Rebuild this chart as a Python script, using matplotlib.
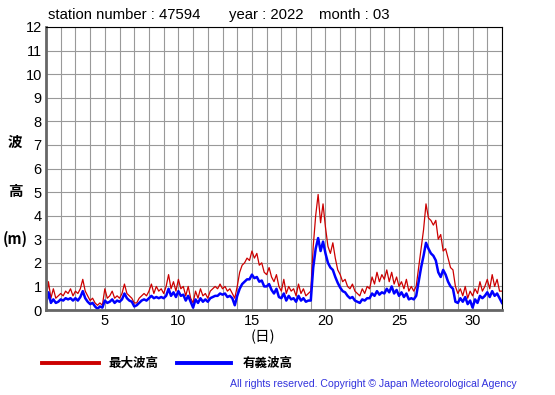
import matplotlib
matplotlib.use("Agg")
import matplotlib.pyplot as plt
from matplotlib.lines import Line2D
import numpy as np

plt.rcParams['font.family'] = ['Liberation Sans', 'Noto Sans CJK JP', 'DejaVu Sans']

# samples every 4 hours, day 1.0 .. 32.0
samples_per_day = 6
max_wave = [
    0.4, 1.2, 0.5, 0.9, 0.5, 0.6,
    0.7, 0.6, 0.8, 0.7, 0.9, 0.6,
    0.8, 0.7, 0.9, 1.3, 0.8, 0.6,
    0.4, 0.5, 0.3, 0.2, 0.3, 0.2,
    0.9, 0.5, 0.6, 0.8, 0.5, 0.6,
    0.5, 0.7, 1.1, 0.7, 0.6, 0.5,
    0.3, 0.3, 0.5, 0.6, 0.7, 0.6,
    0.8, 1.1, 0.7, 1.0, 0.8, 0.9,
    0.7, 1.0, 1.5, 0.9, 1.2, 0.8,
    1.3, 0.9, 1.0, 0.6, 1.0, 0.5,
    0.3, 0.8, 0.5, 0.9, 0.6, 0.7,
    0.5, 0.8, 0.9, 1.0, 0.9, 1.1,
    0.9, 1.0, 0.8, 0.9, 0.7, 0.5,
    1.0, 1.6, 1.9, 2.0, 2.2, 2.1,
    2.5, 2.2, 2.4, 1.9, 2.0, 1.6,
    1.5, 1.8, 1.4, 1.2, 1.5, 1.0,
    0.8, 1.3, 0.7, 1.0, 0.8, 0.9,
    0.6, 1.1, 0.7, 0.9, 0.6, 0.7,
    0.8, 2.7, 4.0, 4.9, 3.7, 4.5,
    3.5, 2.7, 2.4, 2.85, 2.2, 1.7,
    1.5, 1.2, 1.3, 1.0, 0.9, 1.1,
    0.8, 0.7, 0.6, 0.9, 0.7, 1.0,
    0.9, 1.4, 1.1, 1.6, 1.2, 1.5,
    1.3, 1.7, 1.2, 1.6, 1.1, 1.4,
    1.0, 1.2, 0.9, 1.3, 0.8, 1.0,
    0.8, 1.0, 1.8, 2.6, 3.4, 4.5,
    3.9, 3.8, 3.6, 3.8, 3.0, 3.2,
    2.5, 2.6, 2.2, 1.8, 1.7, 1.0,
    0.7, 0.9, 0.6, 1.0, 0.5, 0.8,
    0.6, 0.9, 0.7, 1.2, 0.8, 1.0,
    1.3, 0.9, 1.5, 1.0, 1.3, 0.8,
    0.8,
]
sig_wave = [
    0.25, 0.75, 0.3, 0.45, 0.3, 0.35,
    0.45, 0.4, 0.5, 0.45, 0.5, 0.4,
    0.5, 0.4, 0.55, 0.8, 0.5, 0.35,
    0.25, 0.3, 0.15, 0.05, 0.15, 0.1,
    0.4, 0.3, 0.35, 0.45, 0.3, 0.4,
    0.35, 0.45, 0.7, 0.5, 0.4, 0.35,
    0.15, 0.2, 0.3, 0.4, 0.45, 0.4,
    0.5, 0.6, 0.5, 0.55, 0.5, 0.55,
    0.5, 0.6, 0.9, 0.6, 0.75, 0.55,
    0.8, 0.6, 0.65, 0.4, 0.6, 0.35,
    0.1, 0.45, 0.3, 0.5, 0.35, 0.45,
    0.35, 0.5, 0.55, 0.6, 0.6, 0.7,
    0.65, 0.7, 0.55, 0.6, 0.5, 0.2,
    0.6, 0.9, 1.1, 1.2, 1.3, 1.3,
    1.5, 1.35, 1.4, 1.2, 1.25, 1.0,
    1.0, 1.1, 0.85, 0.7, 0.9, 0.55,
    0.5, 0.7, 0.4, 0.6, 0.45, 0.5,
    0.35, 0.6, 0.4, 0.5, 0.35, 0.4,
    0.4, 1.8, 2.6, 3.05, 2.5, 2.9,
    2.4, 2.0, 1.8, 1.7, 1.4, 1.15,
    0.95, 0.8, 0.75, 0.6, 0.5, 0.55,
    0.4, 0.35, 0.3, 0.45, 0.4, 0.5,
    0.5, 0.7, 0.6, 0.8, 0.65, 0.75,
    0.7, 0.9, 0.75, 1.0, 0.7, 0.85,
    0.6, 0.75, 0.55, 0.7, 0.45, 0.5,
    0.45, 0.6, 1.2, 1.8, 2.3, 2.85,
    2.6, 2.4, 2.3, 2.1, 1.6, 1.4,
    1.7, 1.5, 1.2, 1.0, 0.9, 0.35,
    0.3, 0.5, 0.35, 0.55, 0.25, 0.4,
    0.1, 0.45, 0.3, 0.6, 0.5, 0.6,
    0.75, 0.55, 0.8, 0.6, 0.7, 0.5,
    0.3,
]
x_ticks = [5, 10, 15, 20, 25, 30]
y_ticks = list(range(0, 13))
title_parts = ["station number : 47594", "year : 2022", "month : 03"]
legend_labels = ["最大波高", "有義波高"]
copyright_text = "All rights reserved. Copyright © Japan Meteorological Agency"

days = 1 + np.arange(len(max_wave)) / samples_per_day

W, H = 555, 395
fig = plt.figure(figsize=(W / 100, H / 100), dpi=100)
ax = fig.add_axes([46 / W, 1 - 310 / H, (502 - 46) / W, (310 - 27) / H])

ax.plot(days, max_wave, color='#cc0000', lw=0.9)
ax.plot(days, sig_wave, color='#0000ff', lw=1.8)

ax.set_xlim(1, 32)
ax.set_ylim(0, 12)
ax.set_xticks(x_ticks)
ax.set_xticks(np.arange(1, 33), minor=True)
ax.set_yticks(y_ticks)
ax.grid(True, which='both', color='#999999', lw=0.8)
ax.set_axisbelow(True)
ax.tick_params(which='both', length=0, labelsize=10.5, pad=3)
for s in ['top', 'right']:
    ax.spines[s].set_color('black')
    ax.spines[s].set_linewidth(0.8)
for s in ['left', 'bottom']:
    ax.spines[s].set_color('#666666')
    ax.spines[s].set_linewidth(2.0)

for xp, t in zip([48, 229, 319], title_parts):
    fig.text(xp / W, 1 - 15 / H, t, fontsize=10.7, va='center', ha='left')

jp = ['Noto Sans CJK JP', 'DejaVu Sans']
fig.text(15 / W, 1 - 142 / H, "波", fontsize=10.5, ha='center', va='center', family=jp, weight='bold')
fig.text(15 / W, 1 - 191 / H, "高", fontsize=10.5, ha='center', va='center', family=jp, weight='bold')
fig.text(15 / W, 1 - 239 / H, "(m)", fontsize=10.5, ha='center', va='center', family=jp, weight='bold')
fig.text(263 / W, 1 - 337 / H, "(日)", fontsize=10.5, ha='center', va='center', family=jp)

fig.add_artist(Line2D([42 / W, 99 / W], [1 - 363 / H] * 2, color='#cc0000', lw=2.8))
fig.text(108 / W, 1 - 363 / H, legend_labels[0], fontsize=9, ha='left', va='center', family=jp, weight='bold')
fig.add_artist(Line2D([177 / W, 231 / W], [1 - 363 / H] * 2, color='#0000ff', lw=2.8))
fig.text(243 / W, 1 - 363 / H, legend_labels[1], fontsize=9, ha='left', va='center', family=jp, weight='bold')

fig.text(517 / W, 1 - 384 / H, copyright_text, fontsize=7.6, ha='right', va='center', color='#3333dd')

fig.savefig('out.png', dpi=100)
